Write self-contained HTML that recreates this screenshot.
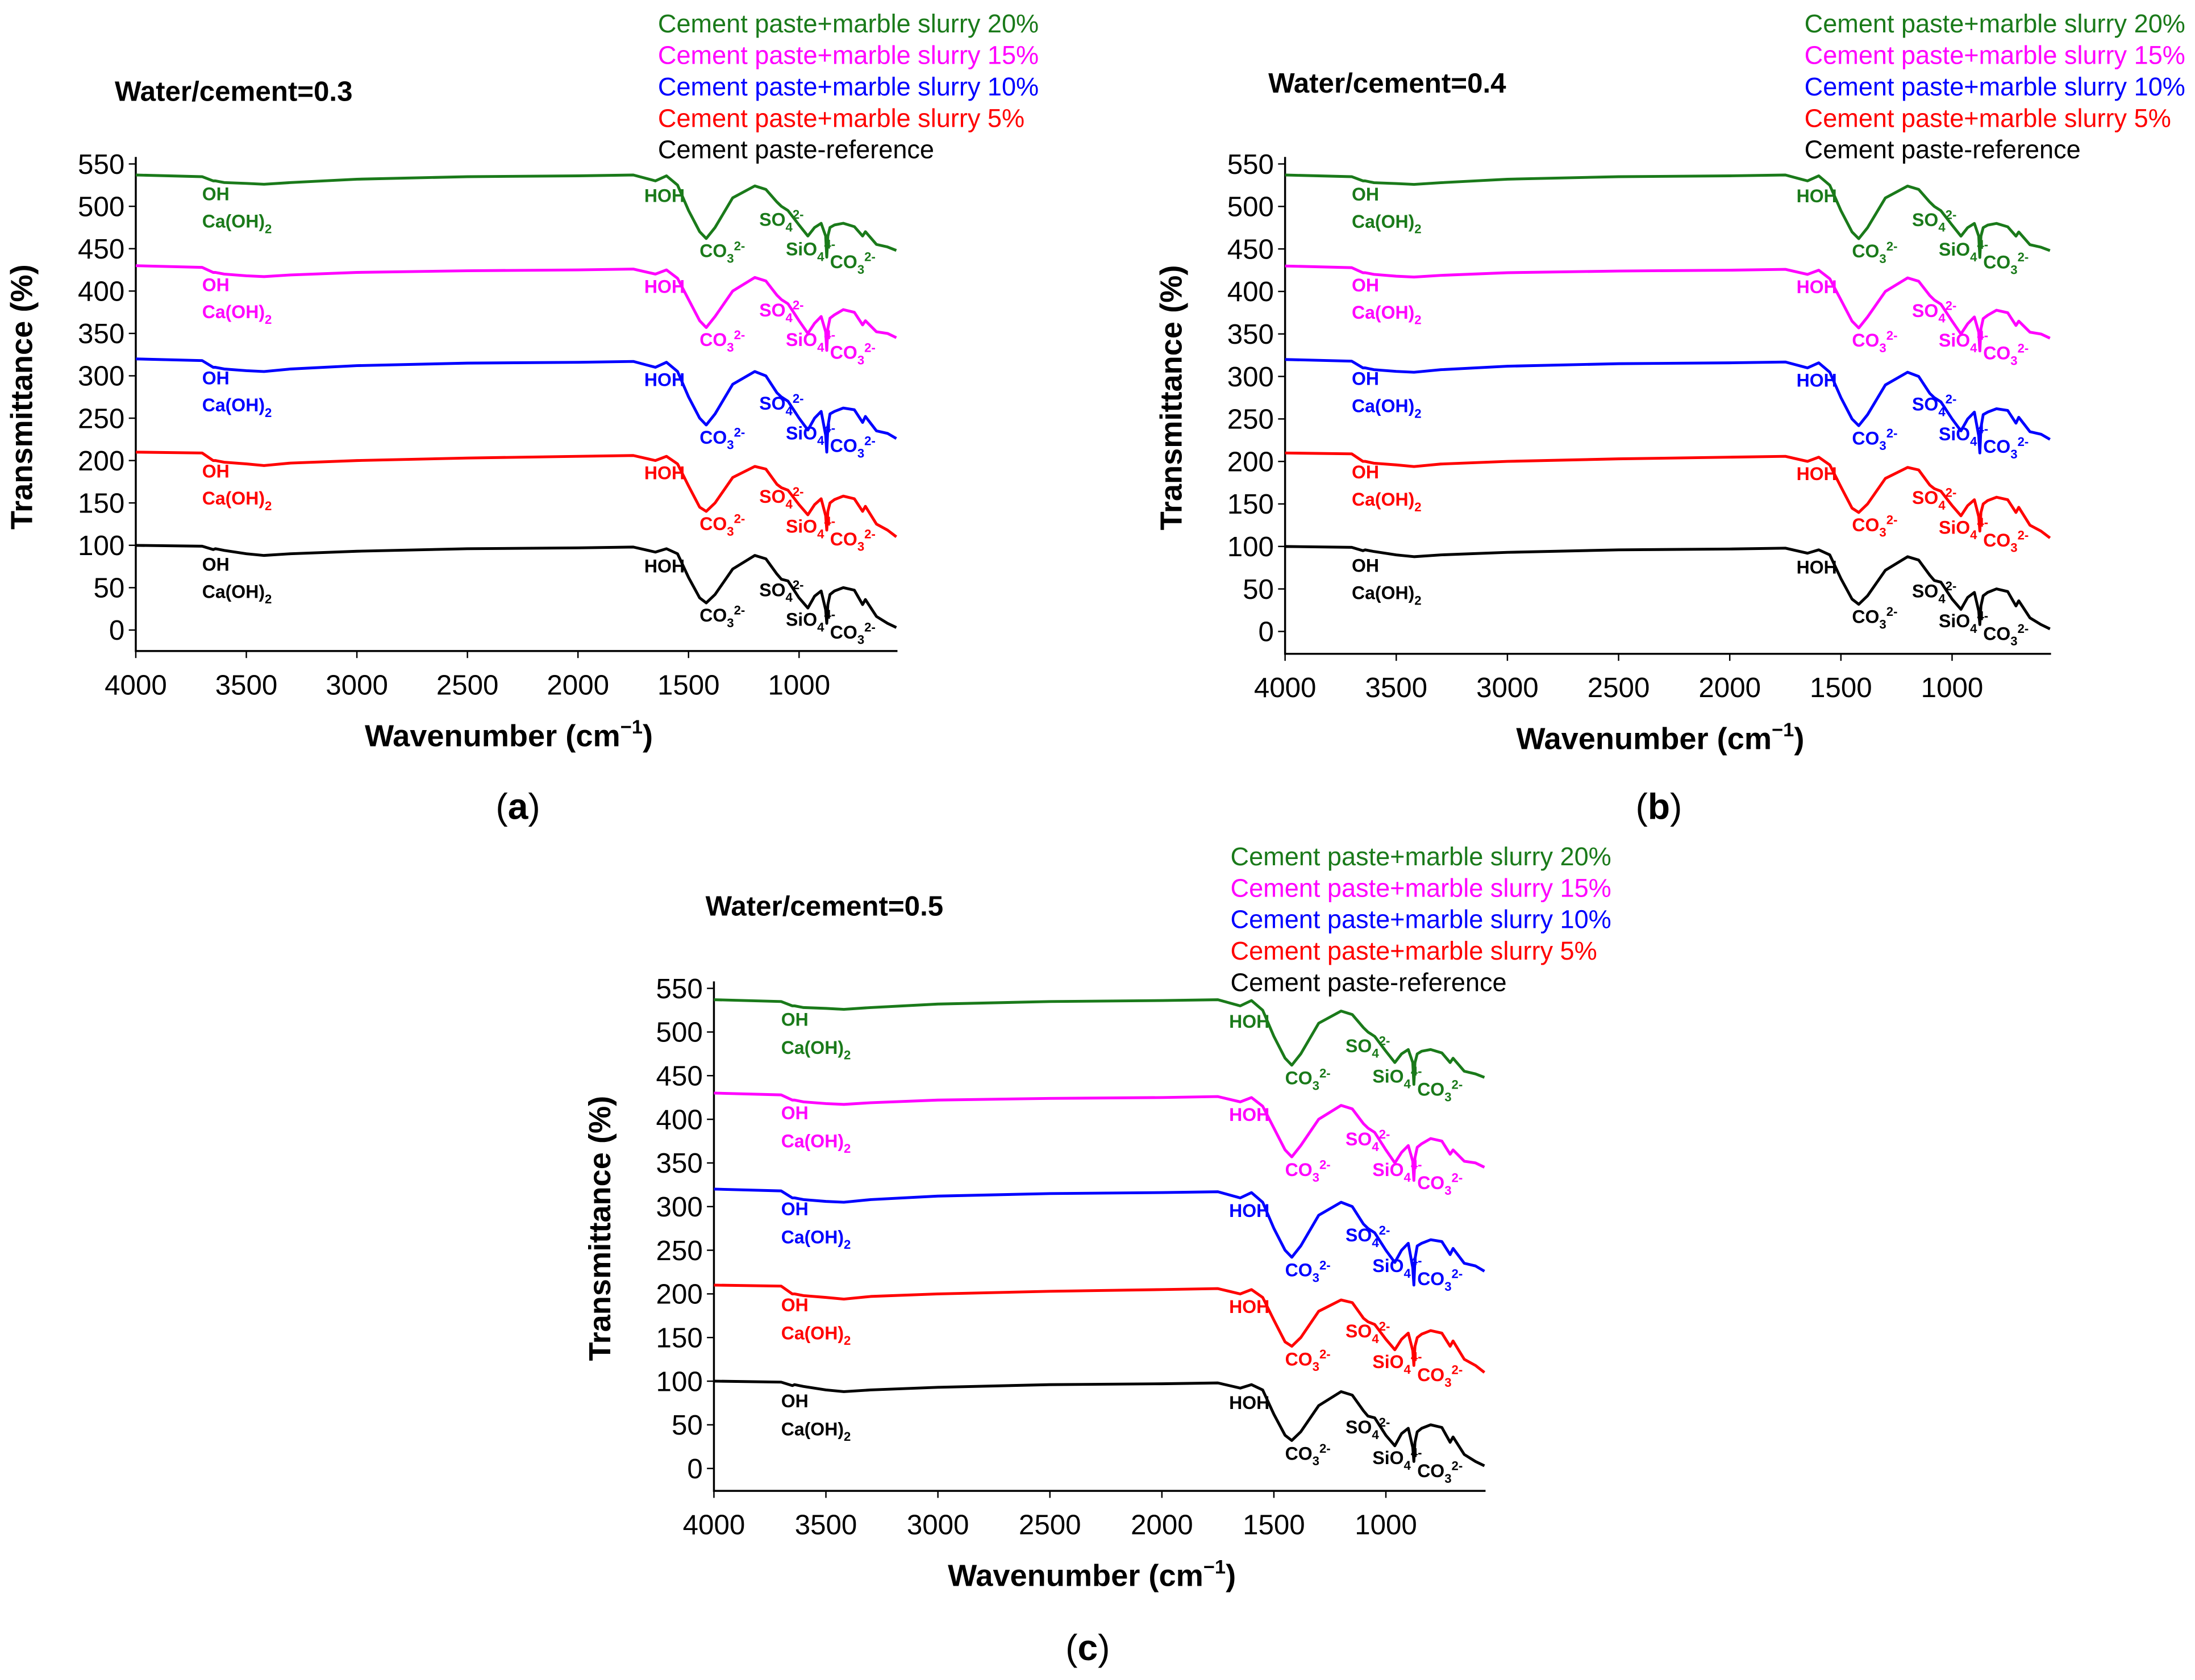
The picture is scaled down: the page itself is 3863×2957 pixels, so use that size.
<!DOCTYPE html>
<html><head><meta charset="utf-8"><style>
html,body{margin:0;padding:0;background:#fff}
svg{display:block}
text{font-family:"Liberation Sans",sans-serif}
</style></head><body>
<svg id="root" width="3863" height="2957" viewBox="0 0 1568 1200" xmlns="http://www.w3.org/2000/svg"></svg>
<script>
const wavenumbers=[4000,3700,3650,3640,3600,3500,3420,3300,3000,2500,2000,1750,1650,1600,1550,1500,1450,1420,1380,1300,1200,1150,1100,1080,1050,1000,960,930,900,880,875,870,860,840,800,750,713,700,650,600,560];
const seriesRef=[100,99,95,96,94,90,88,90,93,96,97,98,92,96,90,62,38,32,42,72,88,84,66,60,58,38,26,40,46,24,8,30,42,46,50,47,30,36,16,8,3];
const series5=[210,209,200,200,198,196,194,197,200,203,205,206,200,205,196,170,145,140,150,180,193,190,172,168,165,148,136,148,155,135,118,140,150,154,158,155,140,146,125,118,110];
const series10=[320,318,310,310,308,306,305,308,312,315,316,317,310,316,305,275,250,242,255,290,305,300,280,275,270,250,236,250,258,230,210,240,255,258,262,260,245,252,235,232,226];
const series15=[430,428,422,422,420,418,417,419,422,424,425,426,420,425,415,390,365,357,370,400,416,412,395,390,385,365,350,362,370,352,330,356,368,372,378,375,360,365,352,350,345];
const series20=[537,535,530,530,528,527,526,528,532,535,536,537,530,536,525,495,470,462,475,510,524,520,505,500,495,478,465,475,480,465,440,465,475,478,480,476,465,470,455,452,448];
const xTicks=[4000,3500,3000,2500,2000,1500,1000];
const yTicks=[0,50,100,150,200,250,300,350,400,450,500,550];
const legendLabels=["Cement paste+marble slurry 20%","Cement paste+marble slurry 15%","Cement paste+marble slurry 10%","Cement paste+marble slurry 5%","Cement paste-reference"];
const colors=["#1a7a1a","#ff00ff","#0000ff","#ff0000","#000000"];
const allSeries=[series20,series15,series10,series5,seriesRef];
const baselines=[537,430,320,210,100];
const panels=[
 {id:"a",title:"Water/cement=0.3",tx:82,ty:72,x0:97,x1:634,y0:450,y550:117,axB:465,legX:470,legY:23,lab:[370,585]},
 {id:"b",title:"Water/cement=0.4",tx:906,ty:66,x0:918,x1:1458,y0:451,y550:117,axB:467,legX:1289,legY:23,lab:[1185,585]},
 {id:"c",title:"Water/cement=0.5",tx:504,ty:654,x0:510,x1:1054,y0:1049,y550:706,axB:1065,legX:879,legY:618,lab:[777,1186]}
];
const NS="http://www.w3.org/2000/svg";
const root=document.getElementById('root');
function mk(tag,attrs,parent,txt){const e=document.createElementNS(NS,tag);for(const k in attrs)e.setAttribute(k,attrs[k]);if(txt!==undefined)e.textContent=txt;parent.appendChild(e);return e;}
panels.forEach(p=>{
 const g=mk('g',{},root);
 
 
 const sx=w=>p.x0+(4000-w)*(p.x1-p.x0)/3400;
 const sy=v=>p.y0-v*(p.y0-p.y550)/550;
 const ax=mk('path',{d:`M${p.x0} ${p.y550-5}V${p.axB}H${sx(555)}`,stroke:'#000','stroke-width':1.4,fill:'none'},g);
 
 
 yTicks.forEach(t=>{const y=sy(t);mk('line',{x1:p.x0-5,x2:p.x0,y1:y,y2:y,stroke:'#000'},g);
  const tl=mk('text',{x:p.x0-8,y:y+7,'text-anchor':'end','font-size':20},g,t);
  
  });
 xTicks.forEach(t=>{const x=sx(t);mk('line',{x1:x,x2:x,y1:p.axB,y2:p.axB+5,stroke:'#000'},g);
  const tl=mk('text',{x:x,y:p.axB+31,'text-anchor':'middle','font-size':20},g,t);
  
  });
 const cy=(p.y550+p.y0)/2;
 const yt=mk('text',{x:0,y:0,transform:`translate(${p.x0-74},${cy}) rotate(-90)`,'text-anchor':'middle','font-size':22,'font-weight':'bold'},g,'Transmittance (%)');
 
 
 const xt=mk('text',{x:(p.x0+p.x1)/2-2,y:p.axB+68,'text-anchor':'middle','font-size':22,'font-weight':'bold'},g);
 
 
 xt.innerHTML='Wavenumber (cm<tspan dy="-9" font-size="14">−1</tspan><tspan dy="9">)</tspan>';
 const tt=mk('text',{x:p.tx,y:p.ty,'font-size':20,'font-weight':'bold'},g,p.title);
 
 
 const pl=mk('text',{x:p.lab[0],y:p.lab[1],'text-anchor':'middle','font-size':26,'font-family':'Liberation Serif, serif'},g);
 pl.innerHTML='(<tspan font-weight="bold">'+p.id+'</tspan>)';
 
 
 legendLabels.forEach((l,i)=>{const e=mk('text',{x:p.legX,y:p.legY+i*22.5,'font-size':18.3,fill:colors[i]},g,l);
  
  });
 allSeries.forEach((s,i)=>{
  const d=s.map((v,j)=>(j?'L':'M')+sx(wavenumbers[j]).toFixed(1)+' '+sy(v).toFixed(1)).join('');
  const pa=mk('path',{d:d,stroke:colors[i],'stroke-width':2,fill:'none','stroke-linejoin':'round'},g);
  
  
  const b=baselines[i],c=colors[i];
  const ann=[[3700,b-30,'OH'],[3700,b-62,'Ca(OH)<tspan dy="4" font-size="9">2</tspan>'],[1700,b-32,'HOH'],[1450,s[17]-22,'CO<tspan dy="4" font-size="9">3</tspan><tspan dy="-9" font-size="9">2-</tspan>'],[1180,b-60,'SO<tspan dy="4" font-size="9">4</tspan><tspan dy="-9" font-size="9">2-</tspan>'],[1060,b-95,'SiO<tspan dy="4" font-size="9">4</tspan><tspan dy="-9" font-size="9">4-</tspan>'],[860,b-110,'CO<tspan dy="4" font-size="9">3</tspan><tspan dy="-9" font-size="9">2-</tspan>']];
  ann.forEach(a=>{const e=mk('text',{x:sx(a[0]),y:sy(a[1]),'font-size':13,'font-weight':'bold',fill:c},g);
   e.innerHTML=a[2];
   
   });
 });
});
</script>
</body></html>
